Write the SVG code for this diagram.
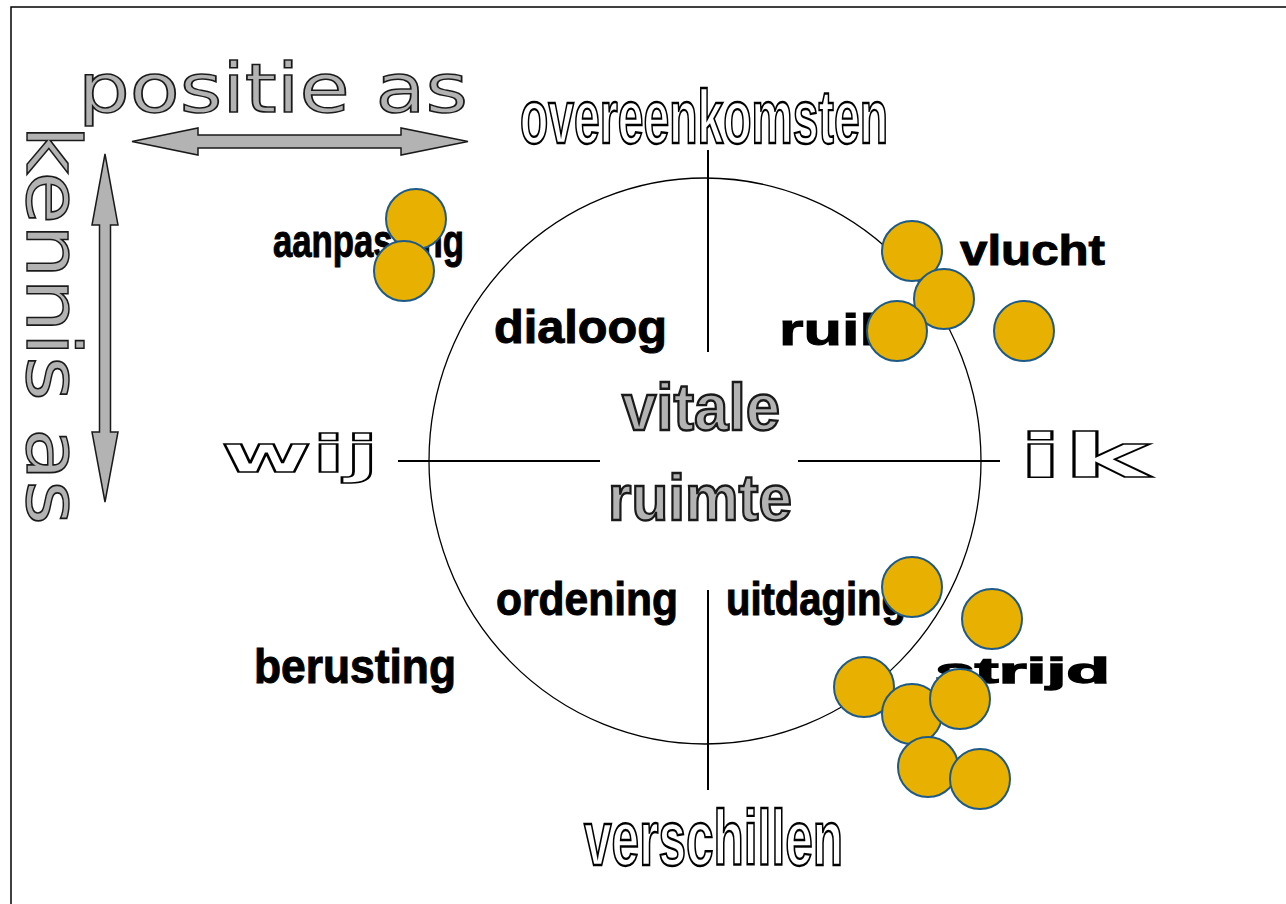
<svg xmlns="http://www.w3.org/2000/svg" width="1286" height="904" viewBox="0 0 1286 904">
<style>
.wide{font-family:"DejaVu Sans",sans-serif}
.lbl{font-family:"Liberation Sans",Arial,sans-serif;font-weight:bold;fill:#000;stroke:#000;stroke-width:1}
.gray{fill:#b3b3b3;stroke:#1a1a1a;stroke-width:1.5}
.outl{fill:#ffffff;stroke:#000000;stroke-width:2.4}
.thick{stroke-width:2.4}
.dot{fill:#e8b000;stroke:#1d5a88;stroke-width:2}
.ln{stroke:#000;stroke-width:2;fill:none}
</style>
<rect x="11" y="7" width="1300" height="960" fill="#ffffff" stroke="#000" stroke-width="1.5"/>

<g id="axes-legend">
  <text class="wide gray" x="78" y="112" font-size="68" textLength="390" lengthAdjust="spacingAndGlyphs">positie as</text>
  <text class="wide gray" transform="translate(27,125) rotate(90)" x="0" y="0" font-size="75" textLength="400" lengthAdjust="spacingAndGlyphs">kennis as</text>
  <polygon class="gray" points="132,141.5 198,128 198,135 401,135 401,128 468,141.5 401,155 401,148 198,148 198,155"/>
  <polygon class="gray" points="105,154 118,225 110.5,225 110.5,432 118,432 105,502 92,432 99.5,432 99.5,225 92,225"/>
</g>

<g id="connectors">
  <ellipse cx="705" cy="461" rx="276" ry="283" fill="none" stroke="#000" stroke-width="1.3"/>
  <line class="ln" x1="708" y1="150" x2="708" y2="352"/>
  <line class="ln" x1="708" y1="590" x2="708" y2="790"/>
  <line class="ln" x1="398" y1="461" x2="600" y2="461"/>
  <line class="ln" x1="798" y1="461" x2="1000" y2="461"/>
</g>

<g id="overeenkomsten"><text class="lbl outl" x="520" y="143" font-size="76" textLength="368" lengthAdjust="spacingAndGlyphs">overeenkomsten</text></g>
<g id="verschillen"><text class="lbl outl" x="584" y="865" font-size="78" textLength="259" lengthAdjust="spacingAndGlyphs">verschillen</text></g>
<g id="wij"><text class="wide outl" x="221" y="472" font-size="52" font-weight="bold" style="stroke-width:1.5" textLength="158" lengthAdjust="spacingAndGlyphs">wij</text></g>
<g id="ik"><text class="wide outl" x="1018" y="477" font-size="60" font-weight="bold" style="stroke-width:1.5" textLength="132" lengthAdjust="spacingAndGlyphs">ik</text></g>
<g id="vitale-ruimte">
  <text class="lbl gray thick" x="622" y="430" font-size="66" textLength="158" lengthAdjust="spacingAndGlyphs">vitale</text>
  <text class="lbl gray thick" x="608" y="520" font-size="65" textLength="184" lengthAdjust="spacingAndGlyphs">ruimte</text>
</g>

<g id="labels">
  <text class="lbl" x="273" y="257" font-size="46" textLength="191" lengthAdjust="spacingAndGlyphs">aanpassing</text>
  <text class="lbl" x="494" y="343" font-size="46" textLength="173" lengthAdjust="spacingAndGlyphs">dialoog</text>
  <text class="lbl" x="779" y="345" font-size="44" textLength="98" lengthAdjust="spacingAndGlyphs">ruil</text>
  <text class="lbl" x="960" y="265" font-size="42" textLength="145" lengthAdjust="spacingAndGlyphs">vlucht</text>
  <text class="lbl" x="496" y="615" font-size="46" textLength="182" lengthAdjust="spacingAndGlyphs">ordening</text>
  <text class="lbl" x="726" y="615" font-size="46" textLength="180" lengthAdjust="spacingAndGlyphs">uitdaging</text>
  <text class="lbl" x="254" y="683" font-size="48" textLength="202" lengthAdjust="spacingAndGlyphs">berusting</text>
  <text class="lbl" x="935" y="683" font-size="35" style="stroke-width:1.3" textLength="175" lengthAdjust="spacingAndGlyphs">strijd</text>
</g>

<g id="dots">
  <circle class="dot" cx="416" cy="219" r="30"/>
  <circle class="dot" cx="404" cy="271" r="30"/>
  <circle class="dot" cx="912" cy="251" r="30"/>
  <circle class="dot" cx="944" cy="299" r="30"/>
  <circle class="dot" cx="897" cy="331" r="30"/>
  <circle class="dot" cx="1024" cy="331" r="30"/>
  <circle class="dot" cx="912" cy="587" r="30"/>
  <circle class="dot" cx="992" cy="619" r="30"/>
  <circle class="dot" cx="864" cy="687" r="30"/>
  <circle class="dot" cx="912" cy="714" r="30"/>
  <circle class="dot" cx="960" cy="699" r="30"/>
  <circle class="dot" cx="928" cy="767" r="30"/>
  <circle class="dot" cx="980" cy="779" r="30"/>
</g>
</svg>
